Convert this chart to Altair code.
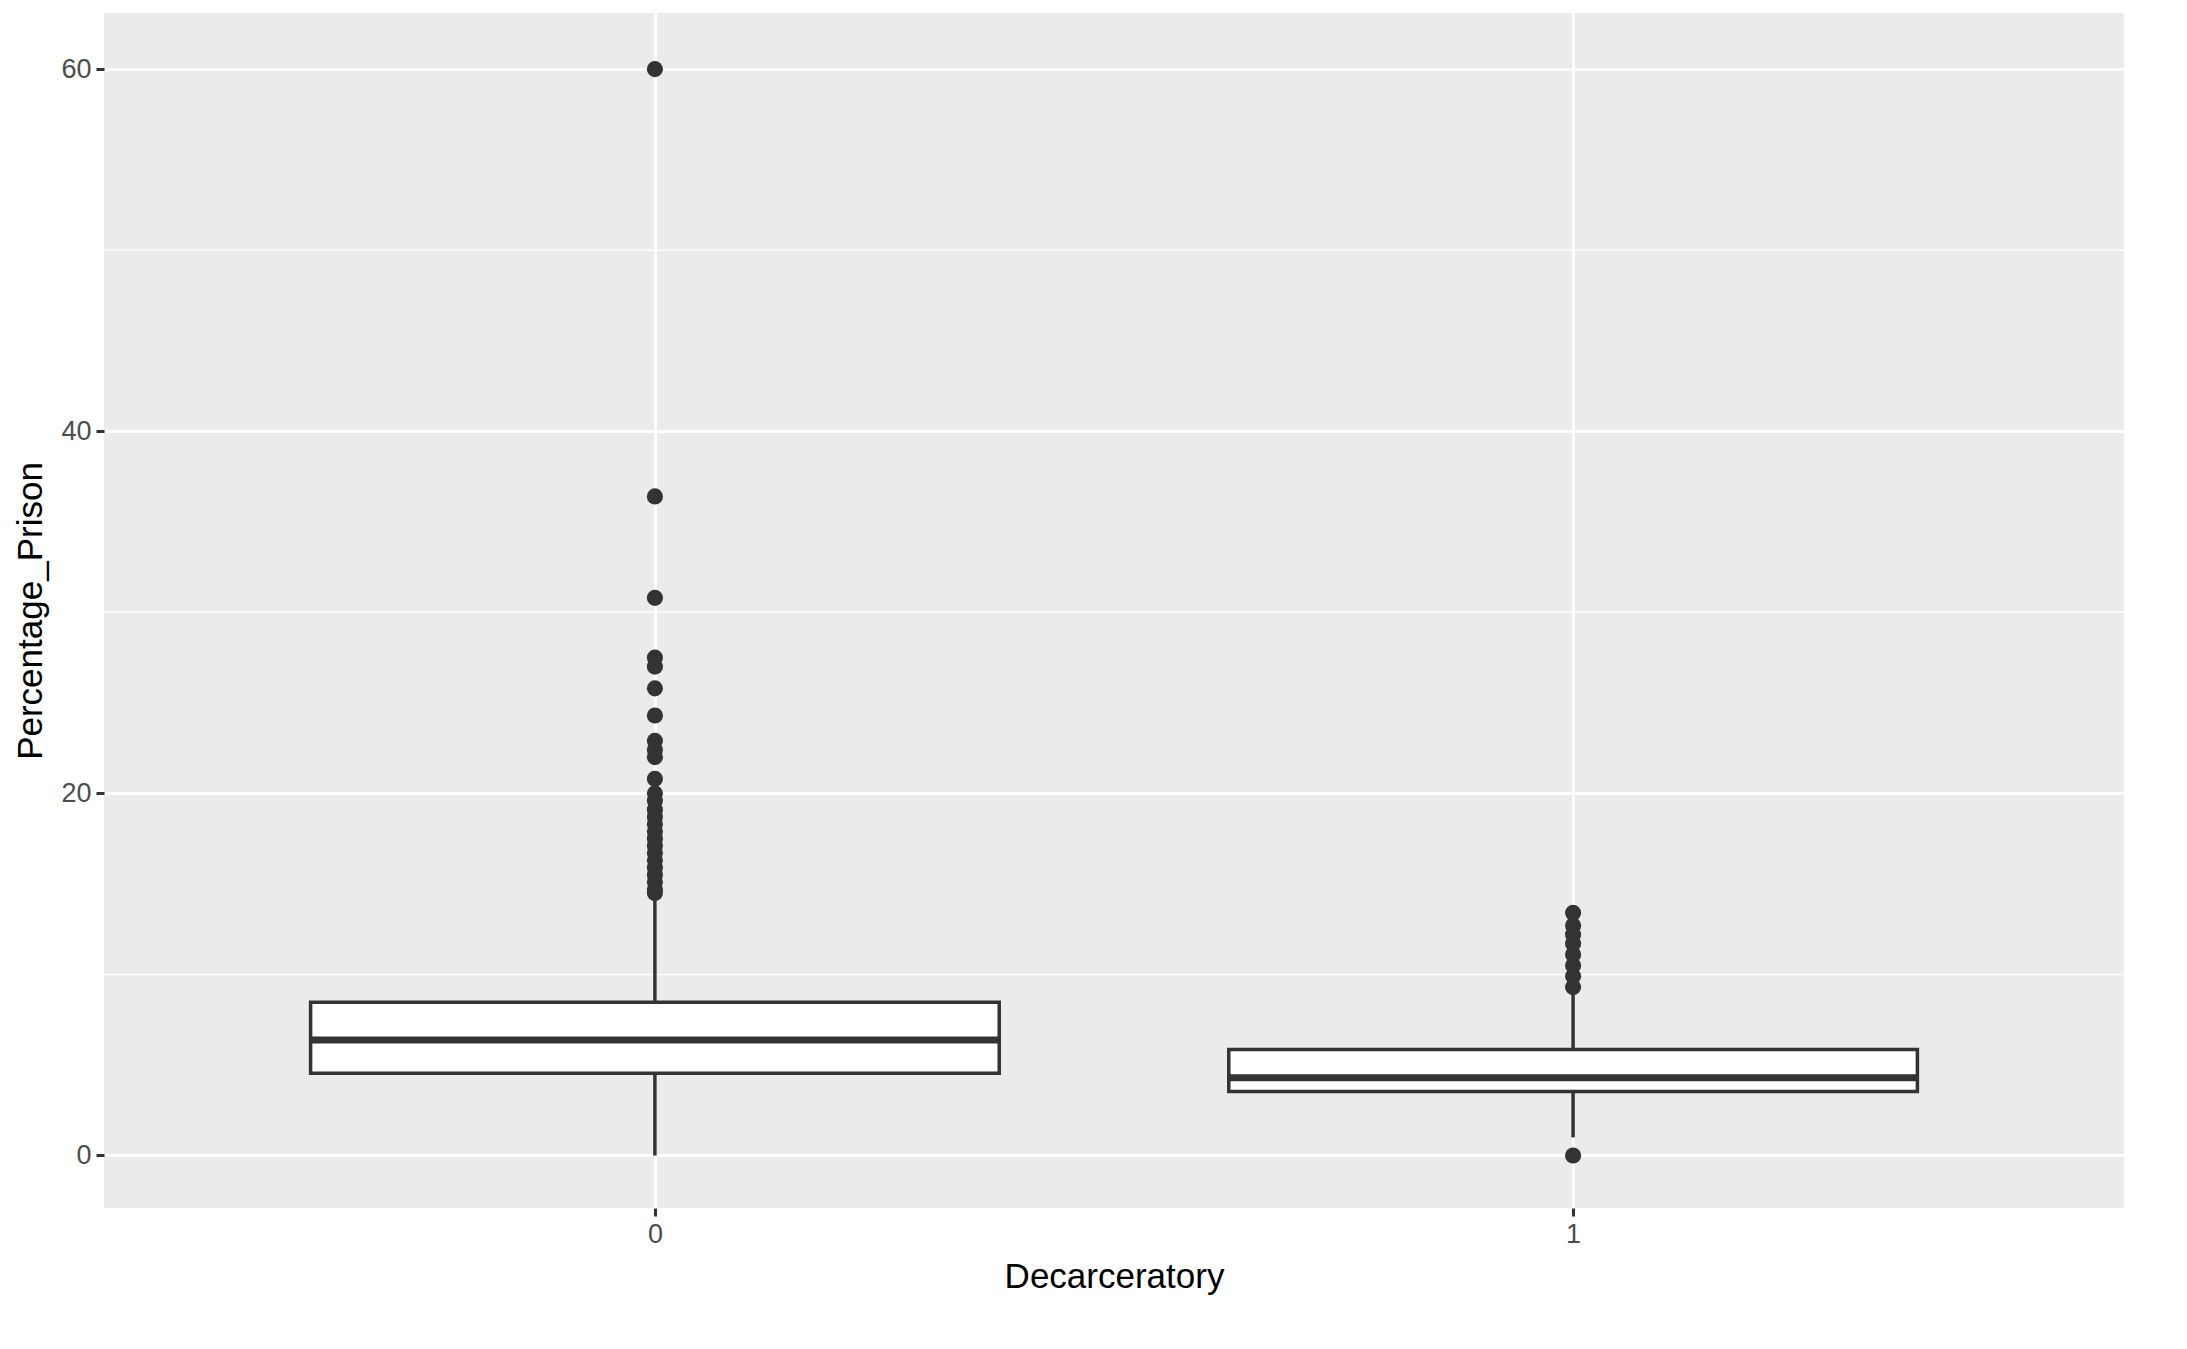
import altair as alt
import pandas as pd

# box statistics
groups = [0, 1]
q1 = [4.54, 3.54]
median = [6.38, 4.30]
q3 = [8.46, 5.85]
whisk_lo = [0.0, 1.0]
whisk_hi = [14.4, 9.0]

out0 = [60, 36.4, 30.8, 27.5, 27.0, 25.8, 24.3, 22.9, 22.4, 22.0, 20.8, 20.0,
        19.6, 19.1, 18.7, 18.3, 17.9, 17.5, 17.1, 16.7, 16.3, 15.9, 15.5, 15.1, 14.7, 14.5]
out1 = [13.4, 12.7, 12.2, 11.7, 11.1, 10.5, 9.9, 9.3, 0.0]

stats = pd.DataFrame({"g": groups, "q1": q1, "med": median, "q3": q3,
                      "lo": whisk_lo, "hi": whisk_hi})
stats["left"] = stats["g"] - 0.375
stats["right"] = stats["g"] + 0.375
outliers = pd.DataFrame({"g": [0] * len(out0) + [1] * len(out1), "v": out0 + out1})
minor = pd.DataFrame({"y": [10, 30, 50]})

xs = alt.Scale(domain=[-0.6, 1.6], nice=False, zero=False)
ys = alt.Scale(domain=[-2.9, 63.1], nice=False, zero=False)
X = alt.X("g:Q", scale=xs, title="Decarceratory",
          axis=alt.Axis(values=[0, 1], format="d"))
Y = alt.Y("lo:Q", scale=ys, title="Percentage_Prison",
          axis=alt.Axis(values=[0, 20, 40, 60]))

line = "#333333"
base = alt.Chart(stats)
minor_grid = alt.Chart(minor).mark_rule(color="white", strokeWidth=1.5).encode(
    y=alt.Y("y:Q", scale=ys))
whisk_low = base.mark_rule(color=line, strokeWidth=3.5).encode(x=X, y=Y, y2="q1:Q")
whisk_high = base.mark_rule(color=line, strokeWidth=3.5).encode(
    x="g:Q", y=alt.Y("q3:Q", scale=ys), y2="hi:Q")
box = base.mark_rect(fill="white", stroke=line, strokeWidth=3.5).encode(
    x=alt.X("left:Q", scale=xs), x2="right:Q", y=alt.Y("q1:Q", scale=ys), y2="q3:Q")
med = base.mark_rule(color=line, strokeWidth=7).encode(
    x=alt.X("left:Q", scale=xs), x2="right:Q", y=alt.Y("med:Q", scale=ys))
pts = alt.Chart(outliers).mark_circle(color=line, opacity=1, size=260).encode(
    x=alt.X("g:Q", scale=xs), y=alt.Y("v:Q", scale=ys))

chart = (
    alt.layer(minor_grid, whisk_low, whisk_high, box, med, pts)
    .properties(width=2020, height=1195)
    .configure_view(fill="#EBEBEB", stroke=None)
    .configure_axis(gridColor="white", gridWidth=3, domain=False,
                    tickColor=line, tickWidth=3, tickSize=8,
                    labelColor="#4D4D4D", labelFontSize=27, labelFont="Liberation Sans",
                    titleFont="Liberation Sans", titleFontSize=35, titleFontWeight="normal",
                    titleColor="black", labelPadding=5, titlePadding=12)
)
chart.save("out.html", embed_options={"renderer": "svg", "actions": False})
